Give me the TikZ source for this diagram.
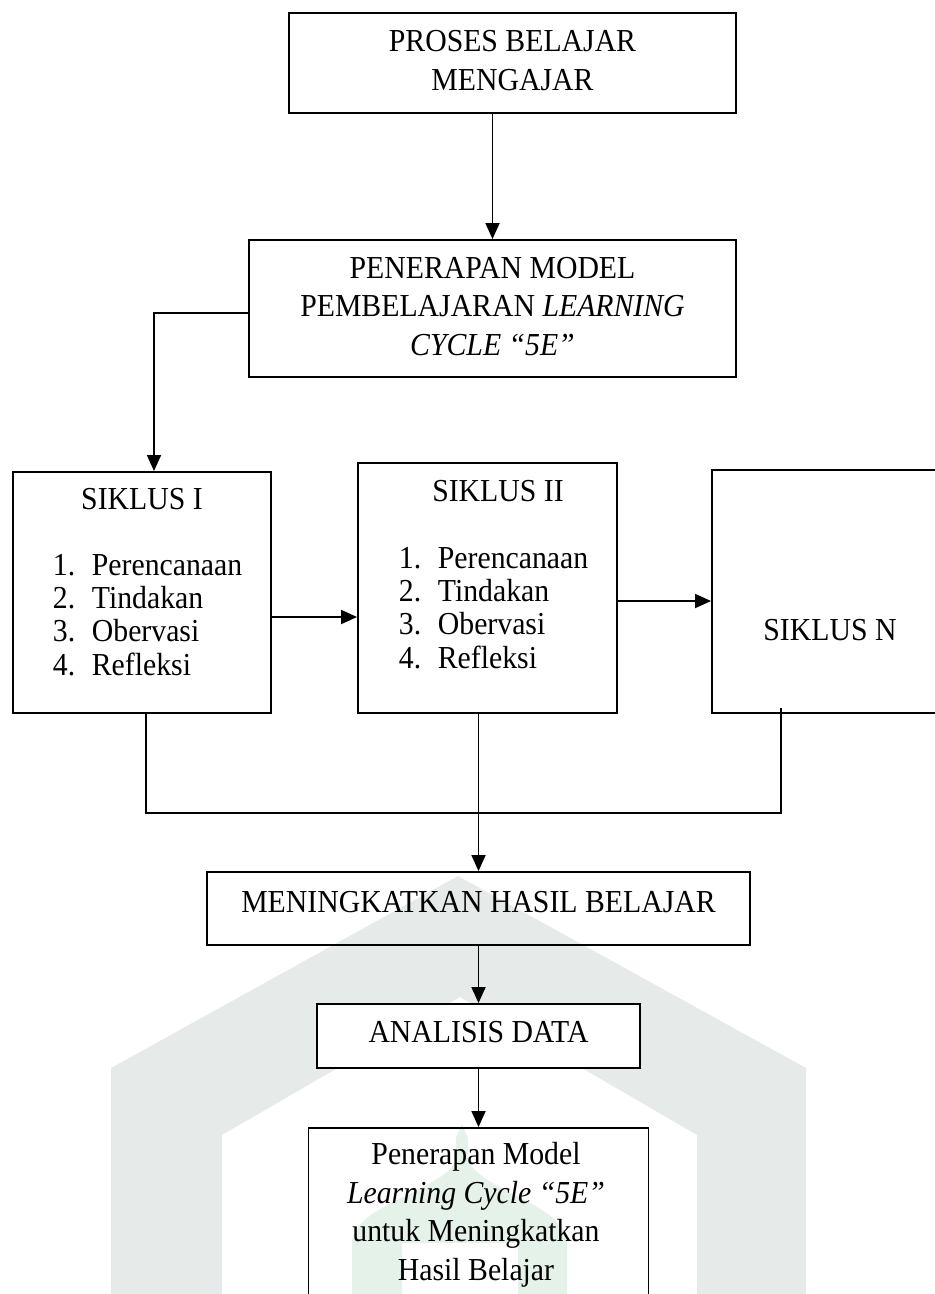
\documentclass[tikz,border=0pt]{standalone}
\usepackage{fontspec}
\setmainfont{Liberation Serif}[FakeStretch=0.93]
\usepackage{tikz}
\usetikzlibrary{arrows.meta}
\definecolor{wmgrey}{RGB}{230,234,233}
\definecolor{wmgreen}{RGB}{228,242,234}

\begin{document}
\begin{tikzpicture}[x=1pt,y=-1pt,>={Triangle[length=16pt,width=14pt]},
                    line width=1.8pt]
  \tikzstyle{box}=[draw,line width=1.9pt,rectangle,inner sep=0pt,fill=white]
  \tikzstyle{lbl}=[inner sep=0pt,align=center,anchor=base,
                   font=\fontsize{32}{38.5}\selectfont]
  \tikzstyle{items}=[inner sep=0pt,align=left,anchor=base west,
                     font=\fontsize{32}{33.3}\selectfont]

  \useasboundingbox (0,0) rectangle (935,1294);

  % watermark
  \fill[wmgrey] (111,1300) -- (111,1068) -- (458,876) -- (806,1068) -- (806,1300)
    -- (697,1300) -- (697,1135) -- (460,997) -- (222,1135) -- (222,1300) -- cycle;
  \fill[wmgreen] (352,1300) -- (352,1243)
    .. controls (352,1205) and (445,1190) .. (456,1160) -- (456,1138)
    -- (462,1124) -- (468,1138) -- (468,1160)
    .. controls (479,1190) and (567,1205) .. (567,1243) -- (567,1300)
    -- (518,1300) -- (518,1243) -- (402,1243) -- (402,1300) -- cycle;

  % boxes
  \node[box,minimum width=447,minimum height=100] (proses) at (512.5,63) {};
  \node[box,minimum width=487,minimum height=137] (penerapan) at (492.5,308.5) {};
  \node[box,minimum width=258,minimum height=241] (siklusI) at (142,592.5) {};
  \node[box,minimum width=259,minimum height=250] (siklusII) at (487.5,588) {};
  \node[box,minimum width=260,minimum height=243] (siklusN) at (842,591.5) {};
  \node[box,fill=none,minimum width=543,minimum height=73] (hasil) at (478.5,908.5) {};
  \node[box,minimum width=323,minimum height=64] (analisis) at (478.5,1036) {};
  \node[box,fill=none,minimum width=340,minimum height=240] (akhir) at (478.5,1248) {};

  % texts (multi-line: anchored on the last baseline)
  \node[lbl] (tproses) at (512.5,90) {PROSES BELAJAR\\MENGAJAR};
  \node[lbl] (tpenerapan) at (492.5,355)
    {PENERAPAN MODEL\\PEMBELAJARAN \textit{LEARNING}\\\textit{CYCLE “5E”}};
  \node[lbl] (tsiklusI) at (142,509) {SIKLUS I};
  \node[items] (lsiklusI) at (52,675)
    {\makebox[39pt][l]{1.}Perencanaan\\\makebox[39pt][l]{2.}Tindakan\\
     \makebox[39pt][l]{3.}Obervasi\\\makebox[39pt][l]{4.}Refleksi};
  \node[lbl] (tsiklusII) at (498,501) {SIKLUS II};
  \node[items] (lsiklusII) at (398,668)
    {\makebox[39pt][l]{1.}Perencanaan\\\makebox[39pt][l]{2.}Tindakan\\
     \makebox[39pt][l]{3.}Obervasi\\\makebox[39pt][l]{4.}Refleksi};
  \node[lbl] (tsiklusN) at (830,640) {SIKLUS N};
  \node[lbl] (thasil) at (478.5,912) {MENINGKATKAN HASIL BELAJAR};
  \node[lbl] (tanalisis) at (478.5,1042.5) {ANALISIS DATA};
  \node[lbl] (takhir) at (476,1280)
    {Penerapan Model\\\textit{Learning Cycle “5E”}\\untuk Meningkatkan\\Hasil Belajar};

  % connectors
  \coordinate (nfoot) at (781,708);
  \coordinate (bus) at (146,813);
  \draw[->] (proses.south -| penerapan.north) -- (penerapan.north);
  \draw[->] ([yshift=-4.5pt]penerapan.west) -| ([xshift=12pt]siklusI.north);
  \draw[->] ([yshift=-24.5pt]siklusI.east) -- ([yshift=-24.5pt]siklusI.east -| siklusII.west);
  \draw[->] ([yshift=-13pt]siklusII.east) -- ([yshift=-13pt]siklusII.east -| siklusN.west);
  \draw ([xshift=4pt]siklusI.south) |- (bus -| nfoot) -- (nfoot);
  \draw[->] (siklusII.south -| hasil.north) -- (hasil.north);
  \draw[->] (hasil.south) -- (analisis.north);
  \draw[->] (analisis.south) -- (akhir.north);

\end{tikzpicture}
\end{document}
